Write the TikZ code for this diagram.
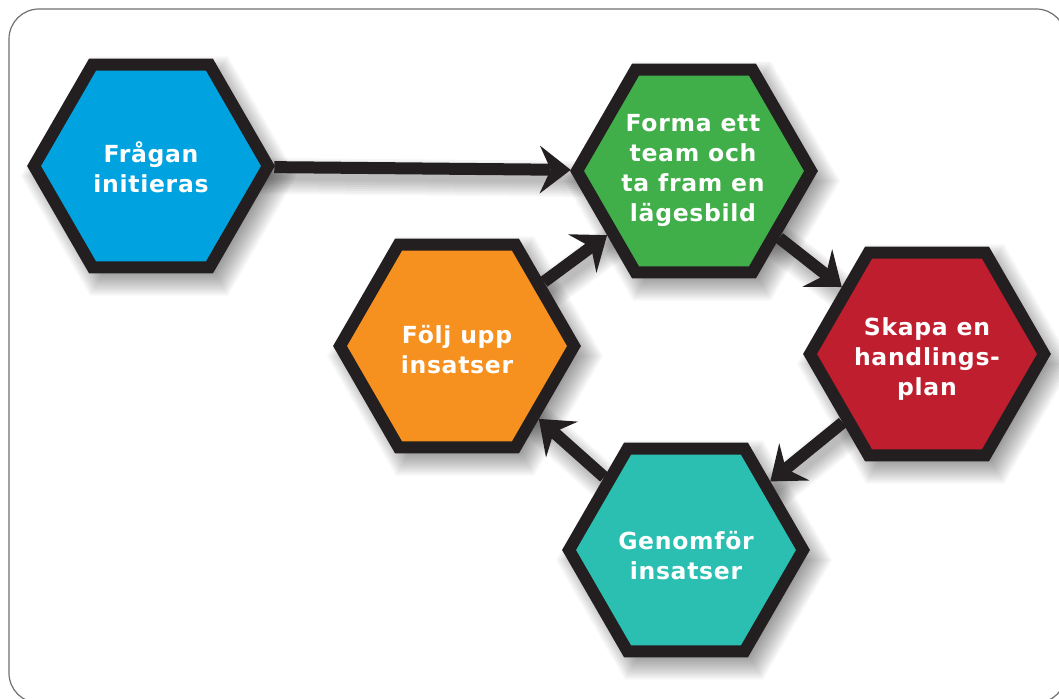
\documentclass[tikz,border=0pt]{standalone}
\usepackage{fontspec}
\newfontfamily\hexfont{DejaVu Sans}[LetterSpace=3]
\usetikzlibrary{shapes.geometric,arrows.meta,calc}
\pgfdeclarelayer{bg}
\pgfsetlayers{bg,main}
\definecolor{hexblue}{HTML}{00A3E0}
\definecolor{hexgreen}{HTML}{40AE49}
\definecolor{hexred}{HTML}{BE1E2D}
\definecolor{hexteal}{HTML}{2BBFB2}
\definecolor{hexorange}{HTML}{F6901E}
\definecolor{hexline}{HTML}{231F20}
\definecolor{framegray}{HTML}{707070}
\tikzset{
  hex/.style={regular polygon, regular polygon sides=6, minimum size=234pt,
    inner sep=0pt, draw=hexline, line width=12pt, line join=miter},
  hextext/.style={text=white, font=\hexfont\bfseries\fontsize{23.5}{30}\selectfont,
    align=center, inner sep=0pt},
  flow/.style={draw=hexline, line width=12pt,
    -{Stealth[length=31pt,width=48pt,inset=11pt,line width=0pt]}},
  hexshade/.style={fill=black, opacity=0.03},
  lineshade/.style={draw=black, opacity=0.035},
  framebox/.style={draw=framegray, line width=1.2pt, rounded corners=30pt}
}
\begin{document}
\begin{tikzpicture}[x=1pt,y=-1pt]
\useasboundingbox (0,0) rectangle (1059,698);

% hexagons
\node[hex, fill=hexblue]   (frag)  at (151,166) {};
\node[hex, fill=hexgreen]  (forma) at (694,171) {};
\node[hex, fill=hexred]    (skapa) at (927,354) {};
\node[hex, fill=hexteal]   (genom) at (686,550) {};
\node[hex, fill=hexorange] (folj)  at (457,346) {};

% texts
\node[hextext] (fragt)  at (151,167) {Frågan\\initieras};
\node[hextext] (format) at (693,170) {Forma ett\\team och\\ta fram en\\lägesbild};
\node[hextext] (skapat) at (927,359) {Skapa en\\handlings-\\plan};
\node[hextext] (genomt) at (686,556) {Genomför\\insatser};
\node[hextext] (foljt)  at (457,350) {Följ upp\\insatser};

% connectors
\draw[flow] (frag) -- (forma);
\draw[flow] (forma) -- (skapa);
\draw[flow] (skapa) -- (genom);
\draw[flow] (genom) -- (folj);
\draw[flow] (folj) -- (forma);

% background, frame and shadows
\begin{pgfonlayer}{bg}
  \fill[white] (0,0) rectangle (1059,698);
  \draw[framebox] (9,9) rectangle (1066,703);
  \foreach \n in {frag,forma,skapa,genom,folj}{
    \foreach \r in {106,108,...,138}{
      \fill[hexshade] ($(\n.center)+(8,10)+(0:\r)$)
        -- ($(\n.center)+(8,10)+(60:\r)$)
        -- ($(\n.center)+(8,10)+(120:\r)$)
        -- ($(\n.center)+(8,10)+(180:\r)$)
        -- ($(\n.center)+(8,10)+(240:\r)$)
        -- ($(\n.center)+(8,10)+(300:\r)$) -- cycle;
    }
  }
  \foreach \a/\b in {frag/forma,forma/skapa,skapa/genom,genom/folj,folj/forma}{
    \foreach \w in {8,12,...,36}{
      \draw[lineshade, line width=\w pt] ($(\a.center)+(5,9)$) -- ($(\b.center)+(5,9)$);
    }
  }
\end{pgfonlayer}
\end{tikzpicture}
\end{document}
